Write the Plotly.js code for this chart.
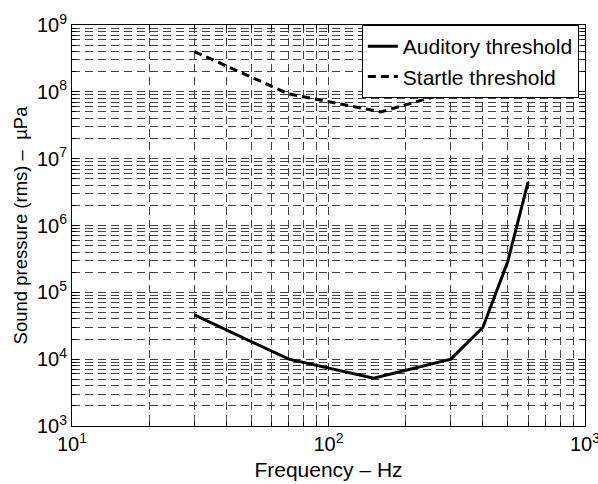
<!DOCTYPE html>
<html>
<head>
<meta charset="utf-8">
<script src="https://cdn.plot.ly/plotly-3.0.1.min.js"></script>
<style>html,body{margin:0;padding:0;background:#fff;}</style>
</head>
<body>
<div id="chart" style="width:598px;height:484px;"></div>
<script>
// Data
const auditoryFreq = [30, 70, 150, 300, 400, 500, 600];
const auditoryPressure = [4.6e4, 1.0e4, 5.2e3, 1.0e4, 3.0e4, 2.9e5, 4.5e6];
const startleFreq = [30, 70, 160, 300];
const startlePressure = [4.0e8, 9.3e7, 5.0e7, 1.0e8];

const xMajorVals = [10, 100, 1000];
const xMajorText = ['10<sup>1</sup>', '10<sup>2</sup>', '10<sup>3</sup>'];
const yMajorVals = [1e3, 1e4, 1e5, 1e6, 1e7, 1e8, 1e9];
const yMajorText = ['10<sup>3</sup>', '10<sup>4</sup>', '10<sup>5</sup>', '10<sup>6</sup>', '10<sup>7</sup>', '10<sup>8</sup>', '10<sup>9</sup>'];

function minorVals(lo, hi) {
  const out = [];
  for (let d = lo; d < hi; d *= 10) for (let k = 2; k <= 9; k++) out.push(k * d);
  return out;
}

const font = {family: 'Liberation Sans, Arial, sans-serif', color: '#000'};
const gridDash = '8px,5px';

const traces = [
  {x: auditoryFreq, y: auditoryPressure, mode: 'lines', name: 'Auditory threshold',
   line: {color: '#000', width: 3}},
  {x: startleFreq, y: startlePressure, mode: 'lines', name: 'Startle threshold',
   line: {color: '#000', width: 3, dash: '8px,5px'}}
];

const axisCommon = {
  type: 'log', showline: true, linecolor: '#000', linewidth: 1, mirror: 'ticks',
  ticks: 'inside', ticklen: 7, tickcolor: '#000', tickwidth: 1,
  showgrid: true, gridcolor: '#444', gridwidth: 1, griddash: gridDash,
  zeroline: false, tickfont: Object.assign({size: 20}, font), tickmode: 'array',
  ticklabeloverflow: 'allow', automargin: false
};

const layout = {
  width: 598, height: 484,
  margin: {l: 72, r: 13, t: 25, b: 58},
  paper_bgcolor: '#fff', plot_bgcolor: '#fff',
  font: font,
  showlegend: true,
  legend: {x: 0.988, y: 1.0, xanchor: 'right', yanchor: 'top',
           bgcolor: '#fff', bordercolor: '#000', borderwidth: 1,
           font: Object.assign({size: 21}, font), tracegroupgap: 0},
  xaxis: Object.assign({}, axisCommon, {
    range: [1, 3], tickvals: xMajorVals, ticktext: xMajorText,
    title: {text: 'Frequency – Hz', font: Object.assign({size: 21}, font), standoff: 8},
    minor: {tickmode: 'array', tickvals: minorVals(10, 1000), ticks: 'inside', ticklen: 4,
            tickcolor: '#000', showgrid: true, gridcolor: '#444', gridwidth: 1, griddash: gridDash}
  }),
  yaxis: Object.assign({}, axisCommon, {
    range: [3, 9], tickvals: yMajorVals, ticktext: yMajorText,
    title: {text: 'Sound pressure (rms) –  µPa', font: Object.assign({size: 18.5}, font), standoff: 4},
    minor: {tickmode: 'array', tickvals: minorVals(1e3, 1e9), ticks: 'inside', ticklen: 4,
            tickcolor: '#000', showgrid: true, gridcolor: '#444', gridwidth: 1, griddash: gridDash}
  })
};

Plotly.newPlot('chart', traces, layout, {displayModeBar: false, staticPlot: true});
</script>
</body>
</html>
